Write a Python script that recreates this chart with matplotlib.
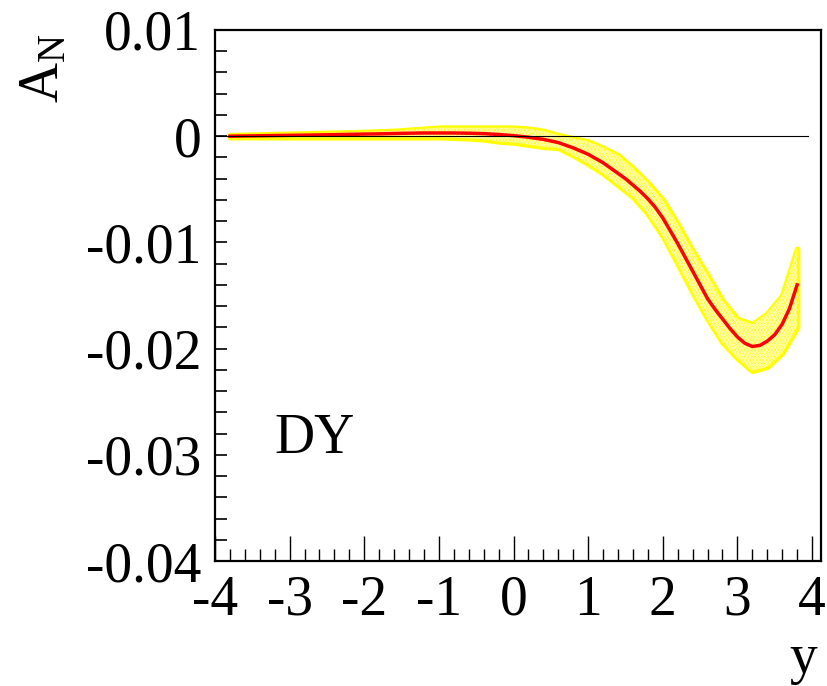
import numpy as np
import matplotlib
matplotlib.use("Agg")
import matplotlib.pyplot as plt
from matplotlib.ticker import MultipleLocator, FuncFormatter

plt.rcParams["font.family"] = ["Liberation Serif", "DejaVu Serif"]
plt.rcParams["mathtext.fontset"] = "custom"
plt.rcParams["mathtext.rm"] = "Liberation Serif"
plt.rcParams["axes.unicode_minus"] = False
plt.rcParams["hatch.linewidth"] = 2.0

# central asymmetry curve vs rapidity
curve_y = [-3.8, -3.6, -3.4, -3.2, -3.0, -2.8, -2.6, -2.4, -2.2, -2.0,
           -1.8, -1.6, -1.4, -1.2, -1.0, -0.8, -0.6, -0.4, -0.2, 0.0,
           0.2, 0.4, 0.6, 0.8, 1.0, 1.1, 1.2, 1.3, 1.4, 1.5, 1.6, 1.7, 1.8, 1.9,
           2.0, 2.1, 2.2, 2.3, 2.4, 2.5, 2.6, 2.7, 2.8, 2.9,
           3.0, 3.1, 3.2, 3.3, 3.4, 3.5, 3.6, 3.7, 3.8]
curve_an = [0.0000, 0.00002, 0.00004, 0.00006, 0.00008, 0.0001, 0.00012, 0.00014, 0.00017, 0.0002,
            0.00022, 0.00025, 0.00028, 0.0003, 0.0003, 0.0003, 0.00028, 0.00024, 0.00016, 0.00005,
            -0.0001, -0.0003, -0.0006, -0.0011, -0.0017, -0.0021, -0.0025, -0.0030, -0.0035, -0.0040,
            -0.0046, -0.0052, -0.0059, -0.0067,
            -0.0077, -0.0089, -0.0101, -0.0114, -0.0127, -0.0140, -0.0153, -0.0163, -0.0172, -0.0181,
            -0.0189, -0.0195, -0.0198, -0.0197, -0.0193, -0.0187, -0.0177, -0.0162, -0.0140]

# uncertainty band
band_y = [-3.8, -3.6, -3.4, -3.2, -3.0, -2.8, -2.6, -2.4, -2.2, -2.0,
          -1.8, -1.6, -1.4, -1.2, -1.0, -0.8, -0.6, -0.4, -0.2, 0.0,
          0.2, 0.4, 0.6, 0.8, 1.0, 1.2, 1.4, 1.6, 1.8, 2.0,
          2.2, 2.4, 2.6, 2.8, 3.0, 3.2, 3.4, 3.6, 3.8]
band_hi = [0.0001, 0.00013, 0.00016, 0.0002, 0.00023, 0.00026, 0.0003, 0.00033, 0.00036, 0.0004,
           0.00045, 0.0005, 0.0006, 0.0007, 0.0008, 0.0008, 0.0008, 0.0008, 0.0008, 0.0008,
           0.0007, 0.0005, 0.0001, -0.0002, -0.0005, -0.0011, -0.0018, -0.0030, -0.0044, -0.0060,
           -0.0083, -0.0108, -0.0131, -0.0155, -0.0172, -0.0177, -0.0167, -0.0150, -0.0106]
band_lo = [-0.0001, -0.0001, -0.0001, -0.0001, -0.0001, -0.0001, -0.0001, -0.0001, -0.0001, -0.0001,
           -0.0001, -0.0001, -0.0001, -0.0001, -0.0001, -0.00015, -0.0002, -0.0003, -0.0005, -0.0006,
           -0.0008, -0.0010, -0.0011, -0.0018, -0.0026, -0.0035, -0.0046, -0.0057, -0.0073, -0.0094,
           -0.0120, -0.0147, -0.0172, -0.0194, -0.0209, -0.0221, -0.0217, -0.0204, -0.0180]

y_ticks = [0.01, 0.0, -0.01, -0.02, -0.03, -0.04]
x_ticks = [-4, -3, -2, -1, 0, 1, 2, 3, 4]

fig = plt.figure(figsize=(8.27, 6.86), dpi=100)
ax = fig.add_axes([0.260, 0.1822, 0.7327, 0.7741])

# band: solid yellow outline and fill, overlaid with a fine white dot pattern
ax.fill_between(band_y, band_lo, band_hi, facecolor="#ffff00",
                edgecolor="#ffff00", linewidth=4.0, zorder=2)
ax.fill_between(band_y, band_lo, band_hi, facecolor="none",
                edgecolor="#fffde0", hatch=".....", linewidth=0, zorder=3)
ax.plot(curve_y, curve_an, color="red", linewidth=2.5, zorder=4)
ax.plot([-4, 3.95], [0, 0], color="black", linewidth=0.8, zorder=5)

ax.set_xlim(-4, 4.12)
ax.set_ylim(-0.04, 0.01)

ax.set_xticks(x_ticks)
ax.xaxis.set_minor_locator(MultipleLocator(0.2))
ax.set_yticks(y_ticks)
ax.yaxis.set_minor_locator(MultipleLocator(0.002))
ax.yaxis.set_major_formatter(FuncFormatter(lambda v, p: "0" if abs(v) < 1e-12 else f"{v:g}"))
ax.xaxis.set_major_formatter(FuncFormatter(lambda v, p: f"{v:g}"))

ax.tick_params(axis="x", which="major", direction="in", length=18, width=1.0,
               labelsize=40, pad=10, top=False)
ax.tick_params(axis="x", which="minor", direction="in", length=8.5, width=1.0, top=False)
ax.tick_params(axis="y", which="both", direction="in", length=8.5, width=1.2,
               labelsize=40, pad=10, right=False)

for s in ax.spines.values():
    s.set_linewidth(1.6)

ax.text(-3.2, -0.0298, "DY", fontsize=40, ha="left", va="baseline")

fig.text(0.022, 0.952, r"$\mathregular{A_N}$", fontsize=40, rotation=90,
         ha="left", va="top")
fig.text(0.988, 0.019, "y", fontsize=40, ha="right", va="baseline")

fig.savefig("out.png", dpi=100)
